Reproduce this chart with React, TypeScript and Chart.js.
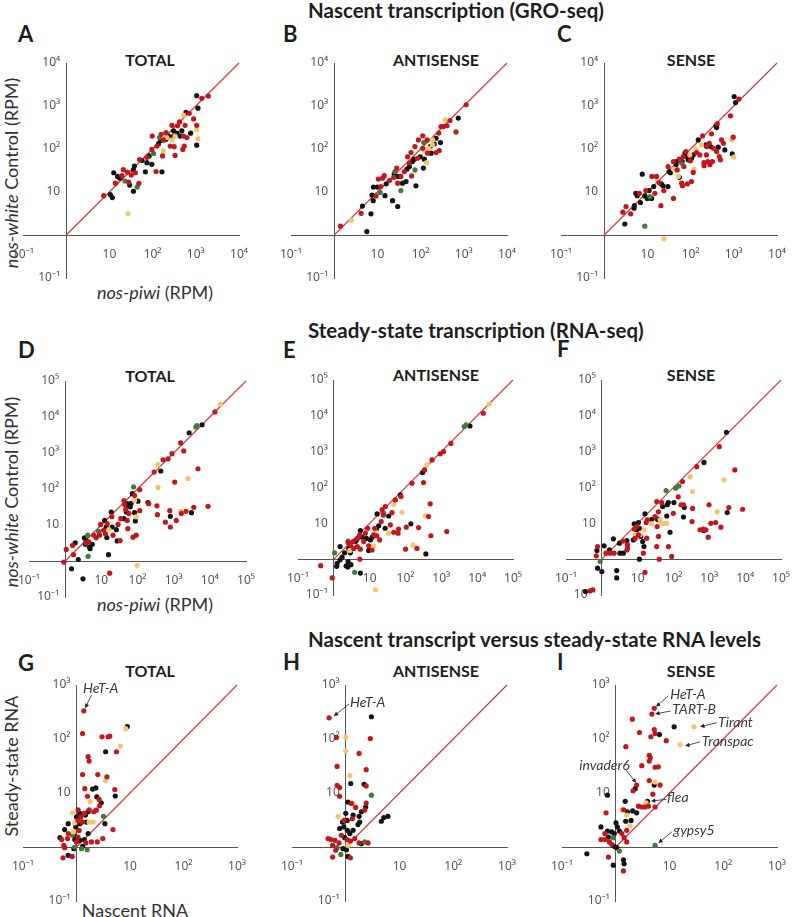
import React, { useEffect, useRef } from 'react';
import { Chart, registerables } from 'chart.js';
Chart.register(...registerables);

type P = [number, number];

// ---------- tick values / labels ----------
const GRO_TICKS = [0.1, 10, 100, 1000, 10000];
const GRO_LABELS = ['10⁻¹', '10', '10²', '10³', '10⁴'];
const RNA_TICKS = [0.1, 10, 100, 1000, 10000, 100000];
const RNA_LABELS = ['10⁻¹', '10', '10²', '10³', '10⁴', '10⁵'];
const CMP_TICKS = [0.1, 10, 100, 1000];
const CMP_LABELS = ['10⁻¹', '10', '10²', '10³'];
const AXIS_MIN = 0.1;
const AXIS_CROSS = 1;
const GRO_MAX = 10000;
const RNA_MAX = 100000;
const CMP_MAX = 1000;

// ---------- A: GRO-seq TOTAL (x: nos-piwi, y: nos-white) ----------
const A_red: P[] = [[7.4,8.2],[13.8,16],[21,33],[26,29],[32,25],[28,17],[19.6,24],[48,15.8],[40,28],[50,57],[74,64],[120,30],[96,98],[98,200],[126,117],[178,160],[158,220],[204,240],[257,117],[316,113],[331,71],[170,69],[377,347],[420,427],[520,200],[540,117],[500,98],[565,355],[705,675],[890,500],[1050,355],[1380,1510],[1950,1700],[280,355],[620,185]];
const A_black: P[] = [[10.5,8.7],[11.7,7.4],[12.6,28],[15.5,23],[17.4,21],[29.5,14.5],[36,10.4],[36,33],[38,40],[57,54],[68,29.5],[74,48],[83,69],[96,44],[165,29.5],[137,133],[155,158],[204,168],[234,200],[305,264],[365,233],[475,264],[436,200],[590,710],[760,233],[1050,1740],[1120,890],[1050,123],[305,200]];
const A_yellow: P[] = [[27,3.1],[214,185],[331,200],[280,162],[178,90],[520,615],[1050,280],[1120,174]];
const A_green: P[] = [[23,18],[44,13],[105,79],[145,185]];

// ---------- B: GRO-seq ANTISENSE ----------
const B_red: P[] = [[1.4,1.6],[4.2,3.2],[9.3,8.1],[10.5,20],[13.2,21],[14.4,24],[12,13.4],[19,18.5],[24,22],[28,36],[29.5,16],[42,30],[35,23],[55,47],[62,23.6],[50,66],[60,83],[85,61],[74,114],[89,163],[112,203],[112,104],[145,80],[141,163],[228,83],[270,92],[263,234],[297,333],[340,333],[410,347],[480,460],[660,250],[1130,1070]];
const B_black: P[] = [[5.7,1.2],[4.5,4.7],[7.1,3.1],[7.5,8.5],[8.1,13],[8,6.3],[10,13],[15,8.2],[16,15.5],[22.4,6.3],[29.5,4.6],[24.5,26],[30,23],[38,16],[46,17.5],[48,34],[55,39],[78,13.9],[71,58],[65,51],[98,66],[116,36],[122,58],[168,114],[175,80],[207,131],[228,178],[288,141],[745,525]];
const B_yellow: P[] = [[2.5,2.2],[138,48],[122,92],[155,103],[190,125],[190,163],[370,480]];
const B_green: P[] = [[11.6,9.8],[25.5,30],[35,10.8],[74,32.6],[118,141]];

// ---------- C: GRO-seq SENSE ----------
const C_red: P[] = [[2.7,3.4],[3.2,4.6],[4.1,3.1],[6.5,9.3],[9.2,10.8],[12.7,23],[16.3,23],[14.9,9.3],[18.5,16.6],[20.5,4.8],[24,10.8],[30,39],[40,7.1],[40,51],[49,32.6],[55,58],[58,56],[62,16],[65,14],[67,66],[78,87],[70,39],[84,15.4],[105,17.5],[99,53],[115,28.5],[137,83],[164,73],[203,48],[205,41],[250,51],[280,43],[320,51],[233,73],[190,203],[234,114],[270,136],[305,225],[335,104],[400,87],[460,67],[490,56],[415,388],[520,163],[575,136],[840,590],[970,188],[1310,1450]];
const C_black: P[] = [[3.0,1.8],[4.9,4.2],[5.0,4.8],[5.4,9.3],[5.8,8.2],[6.9,5.7],[7.6,26],[8.7,8.1],[10,7.1],[11,10.8],[12.5,7.1],[14,13.4],[21,15.4],[23,13.9],[30,13.4],[32,30],[34,28],[46,43],[47,51],[55,22],[64,51],[74,80],[81,67],[88,56],[105,61],[115,73],[150,163],[225,125],[290,114],[385,347],[400,315],[437,110],[620,95],[920,77],[1020,1660],[1100,1200]];
const C_yellow: P[] = [[24,0.81],[17,17.5],[41,34],[52,23],[96,73],[120,34],[132,100],[179,125],[890,163],[1000,65]];
const C_green: P[] = [[8.7,1.6],[11.4,7.8],[62,47]];

// ---------- D: RNA-seq TOTAL ----------
const D_red: P[] = [[0.92,0.93],[1.07,2.1],[1.6,2.7],[1.7,1.5],[3.8,3.2],[4.5,3.4],[6.2,5.2],[7.2,4.4],[8.9,5.2],[9.5,10.4],[11.5,7.1],[13,5.7],[14.5,10.9],[17,0.46],[19.5,17],[21,5.2],[29,10.4],[33,3.7],[35,15],[44,37],[42,48],[47,27],[52,13.4],[54,7.9],[58,21],[83,66],[75,4.6],[92,5.2],[115,96],[115,25],[205,39],[288,295],[345,34],[355,19.4],[510,650],[590,12],[700,690],[780,25],[810,8.8],[900,960],[1070,156],[1180,13.4],[1560,1900],[1630,21],[1900,1140],[2200,24],[3600,31],[4700,365],[8900,33],[13800,13800]];
const D_black: P[] = [[1.9,3.2],[1.5,0.61],[2.3,1.1],[3.1,0.32],[3.4,4.4],[3.8,3.7],[3.6,2.9],[4.7,2.45],[4.9,2.2],[5.6,2.9],[12.3,13.4],[14.2,4.5],[13.6,8.8],[15.8,1.5],[18.8,23],[20,8.8],[26,7.4],[27.5,3.6],[42,15],[52,39],[49,23],[57,33],[63,32],[67,40],[72,74],[83,22],[87,13],[103,46],[195,42],[440,316],[810,17.4],[2680,3650],[3100,22],[6100,6100]];
const D_yellow: P[] = [[16.2,7.4],[33,15],[83,48],[92,17],[97,0.76],[370,475],[370,110],[1560,24],[2500,195],[19500,22400]];
const D_green: P[] = [[4.3,1.35],[4.2,5.2],[8.4,6.7],[78,114],[4100,5250],[4400,5800]];

// ---------- E: RNA-seq ANTISENSE ----------
const E_red: P[] = [[0.43,0.66],[0.9,0.3],[2.5,2.9],[2.9,2.5],[3.45,3.1],[3.6,2.0],[4.5,2.25],[4.6,3.8],[5.3,4.8],[5.3,1.0],[5.5,1.9],[6.8,3.1],[7.6,5.3],[8.8,7.3],[9.4,2.35],[11.7,1.8],[13,4.8],[13.8,7.3],[15.9,4.5],[19,3.45],[21,11.2],[22.3,24],[27.4,29.5],[24,17],[37.8,9.0],[42,20],[47,5.6],[52,45],[62,5.3],[64,6.9],[75,56],[100,1.9],[105,7.8],[151,132],[209,2.0],[232,7.6],[318,138],[340,310],[440,15.5],[490,35],[510,4.5],[550,590],[930,870],[1150,1000],[1420,5.9],[1850,1700],[14900,11800]];
const E_black: P[] = [[1.2,0.63],[1.24,0.77],[1.5,2.25],[1.5,0.96],[1.7,1.14],[2.0,1.5],[2.2,0.65],[2.5,0.86],[2.6,2.0],[2.8,1.8],[2.9,1.5],[3.0,0.7],[4.0,3.1],[4.3,3.45],[5.5,6.3],[5.5,0.41],[6.2,4.1],[8.1,3.8],[9.4,1.75],[10.5,3.45],[11.7,4.1],[15.4,6.9],[16.1,18.3],[17.8,8.5],[27,7.3],[34,16],[72,62],[141,9.7],[300,262],[370,1.4],[6300,5200],[2.45,0.6]];
const E_yellow: P[] = [[2.8,1.75],[13,2.35],[14.5,5.9],[34,5.3],[47,34],[80,20.4],[162,2.5],[355,16.2],[398,427],[22000,21400],[14.4,0.14]];
const E_green: P[] = [[1.05,1.5],[2.5,3.2],[3.8,0.43],[24.6,19.2],[4350,5000],[4900,5600]];

// ---------- F: RNA-seq SENSE ----------
const F_red: P[] = [[0.47,0.13],[0.56,0.14],[0.76,2.25],[0.70,1.24],[1.3,1.47],[1.7,1.47],[2.2,1.47],[4.0,3.2],[5.2,2.5],[5.2,2.0],[5.0,1.8],[8.0,6.9],[8.5,3.8],[9.4,8.1],[10.5,4.8],[14.4,1.47],[16,0.43],[17.9,3.85],[18.7,12.5],[17.2,10.5],[30.6,15.5],[34,40.5],[38,21],[35,8.1],[38,4.3],[34,2.25],[40,1.0],[47,38],[72,2.25],[89,1.19],[99,19],[136,55],[162,33],[178,147],[190,33],[340,26],[330,11.2],[445,380],[550,6.6],[680,6.9],[800,6.6],[930,4.1],[980,33],[1100,10],[1500,10.5],[1900,1380],[2100,7.8],[3500,27.6],[5150,310],[8500,24.7]];
const F_black: P[] = [[0.35,0.125],[0.73,1.75],[0.76,0.56],[1.0,0.45],[1.16,2.35],[1.63,1.82],[2.1,3.7],[2.6,0.48],[2.6,0.3],[3.1,2.8],[3.2,1.47],[4.0,1.47],[5.0,3.3],[7.6,3.45],[8.0,9.7],[9.4,6.6],[10.5,10.5],[11.2,7.3],[12.2,4.3],[11.2,1.0],[13.8,3.1],[15,2.25],[16,18.4],[24.7,13],[35,13.3],[38,12.5],[50,29.5],[67,33],[72,38],[80,5.6],[65,16],[103,38],[190,15],[200,28],[700,6.3],[710,500],[3150,20],[3000,3480]];
const F_yellow: P[] = [[8.5,4.8],[11.7,4.8],[15,6.6],[24.7,9.7],[42,12.5],[47,10],[54,10],[65,10],[290,200],[340,77],[1650,21],[2550,163]];
const F_green: P[] = [[0.9,0.86],[62,82],[115,96],[142,110]];

// ---------- G: nascent vs steady-state TOTAL ----------
const G_red: P[] = [[1.37,333],[1.3,126],[3.0,110],[3.9,110],[4.2,113],[5.6,58],[1.65,47],[1.72,39],[1.3,22],[2.5,22],[3.7,20],[1.43,12],[1.6,8.7],[5.2,11.6],[2.65,7.6],[2.7,5.8],[2.35,4.8],[1.72,4.9],[1.07,4.9],[1.4,4.2],[1.2,3.6],[1.07,3.1],[1.3,2.9],[2.1,4.5],[4.8,2.1],[0.53,1.37],[0.68,1.43],[0.7,1.77],[1.07,1.53],[1.0,1.24],[0.58,1.07],[0.6,0.97],[0.56,0.63],[0.83,0.67],[1.5,1.19],[1.9,1.24],[2.45,1.24],[3.1,1.43],[1.12,2.03]];
const G_black: P[] = [[8.9,170],[3.5,58],[2.0,11.8],[2.3,12.4],[2.4,8.5],[5.3,8.8],[2.9,6.6],[1.65,4.5],[1.15,4.2],[1.47,3.9],[1.0,3.6],[0.7,2.7],[0.97,2.35],[1.15,2.7],[1.53,2.9],[3.4,2.7],[0.6,2.1],[0.49,1.5],[0.89,1.65],[0.93,1.37],[1.15,1.33],[0.7,0.7],[0.89,0.93],[1.3,1.03],[1.65,1.77],[1.4,1.37]];
const G_yellow: P[] = [[8.3,155],[6.6,74],[3.5,17],[1.8,6.9],[0.84,4.3],[0.93,2.8],[1.24,3.1],[1.72,2.9],[2.05,2.9],[0.87,1.9]];
const G_green: P[] = [[3.2,3.7],[0.84,1.65],[0.93,1.0],[1.24,0.93],[1.58,0.89]];

// ---------- H: nascent vs steady-state ANTISENSE ----------
const H_red: P[] = [[0.49,247],[0.67,107],[2.86,102],[1.77,54],[0.69,31],[2.4,27],[2.4,13.5],[0.69,13.9],[0.77,12.6],[0.77,8.7],[1.27,6.4],[1.53,5.4],[2.4,6.5],[2.25,4.8],[0.93,3.1],[1.33,3.35],[0.83,1.65],[0.47,1.43],[0.53,1.37],[0.63,1.33],[0.57,1.07],[0.75,1.19],[1.06,1.37],[1.22,1.29],[1.47,1.43],[1.77,1.19],[2.6,1.19],[1.22,0.63],[0.57,0.65],[0.65,0.87]];
const H_black: P[] = [[3.0,258],[1.24,15],[2.2,14.5],[1.1,6.8],[2.35,5.5],[1.95,4.5],[1.77,3.7],[1.0,4.2],[0.87,2.9],[1.06,3.1],[1.37,3.9],[1.82,2.9],[1.69,2.6],[4.6,3.0],[5.1,3.5],[6.1,3.7],[0.77,2.2],[0.92,2.35],[1.07,2.04],[1.19,1.77],[1.37,2.04],[0.96,1.49],[1.95,1.15],[0.89,0.93],[1.03,0.89],[1.1,0.67]];
const H_yellow: P[] = [[1.0,107],[1.0,60],[1.19,21],[1.37,6.4],[0.72,3.7],[1.1,1.07]];
const H_green: P[] = [[3.0,9.1],[2.25,1.24],[0.69,0.97],[0.81,0.73]];

// ---------- I: nascent vs steady-state SENSE ----------
const I_red: P[] = [[5.2,370],[4.7,290],[2.45,14],[2.04,233],[2.76,132],[4.5,110],[5.2,150],[5.4,126],[8.7,93],[1.54,72],[4.2,50],[4.4,45],[4.2,39],[3.05,32],[5.4,30],[6.2,30.5],[4.2,17],[6.7,14],[4.9,9.5],[0.66,4.3],[2.1,11],[2.65,5.7],[3.05,5.5],[3.5,5.5],[4.05,5.7],[5.4,5.5],[1.4,4.9],[1.3,1.77],[1.6,2.04],[1.43,1.49],[0.63,1.77],[0.53,1.37],[0.63,1.37],[0.76,1.24],[0.84,1.12],[0.73,0.65],[1.39,0.36],[1.6,1.24]];
const I_black: P[] = [[2.3,12],[3.9,7.0],[12.2,168],[6.5,121],[5.2,14],[0.7,9.1],[1.5,7.0],[1.65,4.5],[2.07,4.65],[2.45,4.3],[1.53,3.0],[1.93,3.1],[1.01,2.8],[1.07,2.35],[1.17,1.98],[0.53,2.35],[0.7,1.98],[0.84,1.9],[0.94,1.77],[0.73,1.53],[0.93,1.03],[1.04,0.97],[0.9,0.46],[0.29,0.75],[1.39,0.58],[1.43,0.49]];
const I_yellow: P[] = [[28.6,168],[15.8,79],[5.4,16],[3.66,6.6],[1.3,4.9],[1.6,3.9],[1.85,2.5]];
const I_green: P[] = [[5.4,1.07],[0.9,1.49],[1.17,0.84]];

// ---------- annotations (text, labelled point, label anchor, arrow start; data coords) ----------
type Note = { text: string; point: P; label: P; from: P };
const G_notes: Note[] = [{ text: 'HeT-A', point: [1.45, 370], label: [1.32, 870], from: [1.9, 650] }];
const H_notes: Note[] = [{ text: 'HeT-A', point: [0.6, 265], label: [1.2, 480], from: [1.15, 445] }];
const I_notes: Note[] = [
  { text: 'HeT-A', point: [5.6, 395], label: [10.3, 660], from: [9.5, 630] },
  { text: 'TART-B', point: [5.4, 290], label: [11.3, 345], from: [10.5, 330] },
  { text: 'Tirant', point: [37, 168], label: [80, 205], from: [76, 200] },
  { text: 'Transpac', point: [19.5, 74], label: [40, 89], from: [37, 89] },
  { text: 'invader6', point: [2.4, 15.4], label: [0.21, 33], from: [1.56, 26.5] },
  { text: 'flea', point: [4.5, 7.1], label: [9.0, 8.1], from: [8.7, 7.6] },
  { text: 'gypsy5', point: [6.2, 1.18], label: [11.8, 2.04], from: [11, 1.9] },
];

// ---------- styles ----------
const FONT = 'Lato, "Noto Sans", "DejaVu Sans", sans-serif';
const TICK_FONT = '"Noto Sans", "DejaVu Sans", sans-serif';
const COLORS = { red: '#c4161c', black: '#141414', yellow: '#f4c56c', green: '#3f7b3c' };
const DIAG = '#d23c3c';
const AXIS = '#555555';
const TICK = '#555555';
const PAD = { l: 18, r: 14, t: 12, b: 14 };

type Box = { xl: number; xr: number; yt: number; yb: number };
type PanelCfg = {
  red: P[]; black: P[]; yellow: P[]; green: P[];
  ticks: number[]; labels: string[]; max: number; box: Box; notes: Note[];
};

const PANELS: PanelCfg[] = [
  { red: A_red, black: A_black, yellow: A_yellow, green: A_green, ticks: GRO_TICKS, labels: GRO_LABELS, max: GRO_MAX, box: { xl: 23, xr: 239, yt: 63, yb: 278 }, notes: [] },
  { red: B_red, black: B_black, yellow: B_yellow, green: B_green, ticks: GRO_TICKS, labels: GRO_LABELS, max: GRO_MAX, box: { xl: 291, xr: 507, yt: 63, yb: 278 }, notes: [] },
  { red: C_red, black: C_black, yellow: C_yellow, green: C_green, ticks: GRO_TICKS, labels: GRO_LABELS, max: GRO_MAX, box: { xl: 561, xr: 777, yt: 63, yb: 278 }, notes: [] },
  { red: D_red, black: D_black, yellow: D_yellow, green: D_green, ticks: RNA_TICKS, labels: RNA_LABELS, max: RNA_MAX, box: { xl: 29, xr: 246, yt: 381, yb: 597 }, notes: [] },
  { red: E_red, black: E_black, yellow: E_yellow, green: E_green, ticks: RNA_TICKS, labels: RNA_LABELS, max: RNA_MAX, box: { xl: 298, xr: 513, yt: 380, yb: 595 }, notes: [] },
  { red: F_red, black: F_black, yellow: F_yellow, green: F_green, ticks: RNA_TICKS, labels: RNA_LABELS, max: RNA_MAX, box: { xl: 566, xr: 781, yt: 380, yb: 595 }, notes: [] },
  { red: G_red, black: G_black, yellow: G_yellow, green: G_green, ticks: CMP_TICKS, labels: CMP_LABELS, max: CMP_MAX, box: { xl: 23, xr: 237, yt: 685, yb: 901 }, notes: G_notes },
  { red: H_red, black: H_black, yellow: H_yellow, green: H_green, ticks: CMP_TICKS, labels: CMP_LABELS, max: CMP_MAX, box: { xl: 292, xr: 507, yt: 685, yb: 901 }, notes: H_notes },
  { red: I_red, black: I_black, yellow: I_yellow, green: I_green, ticks: CMP_TICKS, labels: CMP_LABELS, max: CMP_MAX, box: { xl: 562, xr: 777, yt: 685, yb: 901 }, notes: I_notes },
];

function makeNotesPlugin(notes: Note[]) {
  return {
    id: 'notes',
    afterDatasetsDraw(chart: any) {
      if (!notes.length) return;
      const { ctx } = chart;
      const sx = chart.scales.x;
      const sy = chart.scales.y;
      ctx.save();
      ctx.font = `italic 14px ${FONT}`;
      ctx.textBaseline = 'middle';
      ctx.textAlign = 'left';
      for (const n of notes) {
        const tx = sx.getPixelForValue(n.label[0]);
        const ty = sy.getPixelForValue(n.label[1]);
        ctx.fillStyle = '#3a3a3a';
        ctx.fillText(n.text, tx, ty);
        const fx = sx.getPixelForValue(n.from[0]);
        const fy = sy.getPixelForValue(n.from[1]);
        const px = sx.getPixelForValue(n.point[0]);
        const py = sy.getPixelForValue(n.point[1]);
        const ang = Math.atan2(py - fy, px - fx);
        const L = 5;
        ctx.strokeStyle = '#222';
        ctx.fillStyle = '#222';
        ctx.lineWidth = 0.8;
        ctx.beginPath();
        ctx.moveTo(fx, fy);
        ctx.lineTo(px - 3 * Math.cos(ang), py - 3 * Math.sin(ang));
        ctx.stroke();
        ctx.beginPath();
        ctx.moveTo(px, py);
        ctx.lineTo(px - L * Math.cos(ang - 0.45), py - L * Math.sin(ang - 0.45));
        ctx.lineTo(px - L * Math.cos(ang + 0.45), py - L * Math.sin(ang + 0.45));
        ctx.closePath();
        ctx.fill();
      }
      ctx.restore();
    },
  };
}

function Panel({ cfg }: { cfg: PanelCfg }) {
  const ref = useRef<HTMLCanvasElement>(null);
  const { box } = cfg;
  const w = box.xr - box.xl + PAD.l + PAD.r;
  const h = box.yb - box.yt + PAD.t + PAD.b;
  useEffect(() => {
    const series = [
      { name: 'red', pts: cfg.red, color: COLORS.red },
      { name: 'yellow', pts: cfg.yellow, color: COLORS.yellow },
      { name: 'green', pts: cfg.green, color: COLORS.green },
      { name: 'black', pts: cfg.black, color: COLORS.black },
    ];
    const tickFont = { family: TICK_FONT, size: 12 };
    const chart = new Chart(ref.current as HTMLCanvasElement, {
      type: 'scatter',
      data: {
        datasets: [
          ...series.map((s) => ({
            label: s.name,
            data: s.pts.map(([x, y]) => ({ x, y })),
            backgroundColor: s.color,
            borderColor: s.color,
            borderWidth: 0,
            pointRadius: 2.6,
            clip: false as any,
          })),
          {
            label: 'y = x',
            data: [{ x: AXIS_CROSS, y: AXIS_CROSS }, { x: cfg.max, y: cfg.max }],
            showLine: true,
            borderColor: DIAG,
            backgroundColor: DIAG,
            borderWidth: 1.2,
            pointRadius: 0,
            fill: false,
            clip: false as any,
          },
        ],
      },
      options: {
        animation: false,
        responsive: false,
        events: [],
        layout: { padding: { left: PAD.l, right: PAD.r, top: PAD.t, bottom: PAD.b } },
        plugins: { legend: { display: false }, tooltip: { enabled: false }, title: { display: false } },
        scales: {
          x: {
            type: 'logarithmic',
            min: AXIS_MIN,
            max: cfg.max,
            position: { y: AXIS_CROSS } as any,
            grid: { display: false },
            border: { display: true, color: AXIS, width: 1 },
            afterBuildTicks: (s: any) => { s.ticks = cfg.ticks.map((v) => ({ value: v })); },
            ticks: {
              autoSkip: false, maxRotation: 0, padding: 4, color: TICK, font: tickFont,
              callback: (v: any) => { const i = cfg.ticks.indexOf(Number(v)); return i >= 0 ? cfg.labels[i] : ''; },
            },
          },
          y: {
            type: 'logarithmic',
            min: AXIS_MIN,
            max: cfg.max,
            position: { x: AXIS_CROSS } as any,
            grid: { display: false },
            border: { display: true, color: AXIS, width: 1 },
            afterBuildTicks: (s: any) => { s.ticks = cfg.ticks.map((v) => ({ value: v })); },
            ticks: {
              autoSkip: false, padding: 4, color: TICK, font: tickFont,
              callback: (v: any) => { const i = cfg.ticks.indexOf(Number(v)); return i >= 0 ? cfg.labels[i] + '\u2002' : ''; },
            },
          },
        },
      } as any,
      plugins: [makeNotesPlugin(cfg.notes)],
    });
    return () => chart.destroy();
  }, []);
  return (
    <canvas
      ref={ref}
      width={w}
      height={h}
      style={{ position: 'absolute', left: box.xl - PAD.l, top: box.yt - PAD.t, width: w, height: h }}
    />
  );
}

const txt = (extra: React.CSSProperties): React.CSSProperties => ({
  position: 'absolute', whiteSpace: 'nowrap', lineHeight: 1, fontFamily: FONT, color: '#1e1e1e', ...extra,
});

function Section({ text, top }: { text: string; top: number }) {
  return <div style={txt({ left: 308, top, fontSize: 20.5, fontWeight: 700 })}>{text}</div>;
}
function Letter({ text, left, top }: { text: string; left: number; top: number }) {
  return <div style={txt({ left, top, fontSize: 22, fontWeight: 700 })}>{text}</div>;
}
function Sub({ text, cx, top }: { text: string; cx: number; top: number }) {
  return <div style={txt({ left: cx, top, fontSize: 16, fontWeight: 700, transform: 'translateX(-50%)' })}>{text}</div>;
}
function AxisTitle({ children, cx, cy, vertical }: { children: React.ReactNode; cx: number; cy: number; vertical?: boolean }) {
  return (
    <div style={txt({ left: cx, top: cy, fontSize: 18, color: '#333', transform: `translate(-50%, -50%)${vertical ? ' rotate(-90deg)' : ''}` })}>
      {children}
    </div>
  );
}

export default function App() {
  return (
    <div style={{ position: 'absolute', left: 0, top: 0, width: 795, height: 917, overflow: 'hidden', background: '#fff' }}>
      <Section text="Nascent transcription (GRO-seq)" top={0} />
      <Section text="Steady-state transcription (RNA-seq)" top={320} />
      <Section text="Nascent transcript versus steady-state RNA levels" top={629} />

      <Letter text="A" left={18} top={23} />
      <Letter text="B" left={283} top={23} />
      <Letter text="C" left={557} top={23} />
      <Letter text="D" left={18} top={339} />
      <Letter text="E" left={283} top={339} />
      <Letter text="F" left={557} top={338} />
      <Letter text="G" left={18} top={652} />
      <Letter text="H" left={283} top={651} />
      <Letter text="I" left={557} top={651} />

      <Sub text="TOTAL" cx={150} top={52} />
      <Sub text="ANTISENSE" cx={436} top={52} />
      <Sub text="SENSE" cx={691} top={52} />
      <Sub text="TOTAL" cx={150} top={368} />
      <Sub text="ANTISENSE" cx={436} top={367} />
      <Sub text="SENSE" cx={691} top={367} />
      <Sub text="TOTAL" cx={150} top={663} />
      <Sub text="ANTISENSE" cx={436} top={663} />
      <Sub text="SENSE" cx={691} top={663} />

      <AxisTitle cx={11} cy={173} vertical><i>nos-white</i> Control (RPM)</AxisTitle>
      <AxisTitle cx={155} cy={292}><i>nos-piwi</i> (RPM)</AxisTitle>
      <AxisTitle cx={11} cy={492} vertical><i>nos-white</i> Control (RPM)</AxisTitle>
      <AxisTitle cx={155} cy={604}><i>nos-piwi</i> (RPM)</AxisTitle>
      <AxisTitle cx={11} cy={766} vertical>Steady-state RNA</AxisTitle>
      <AxisTitle cx={135} cy={910}>Nascent RNA</AxisTitle>

      {PANELS.map((p, i) => <Panel key={i} cfg={p} />)}
    </div>
  );
}
